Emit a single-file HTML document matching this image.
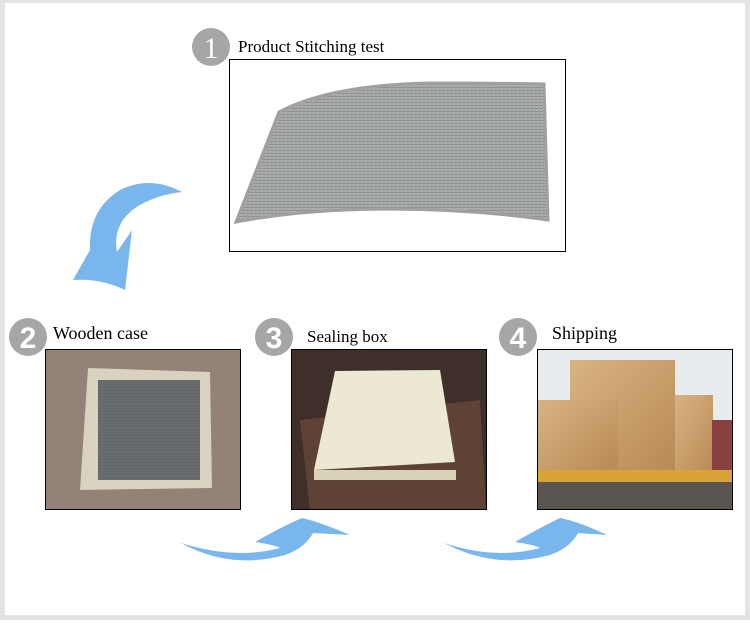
<!DOCTYPE html>
<html><head><style>
body{margin:0;width:750px;height:620px;overflow:hidden;background:#fff}
</style></head><body>
<svg width="750" height="620" xmlns="http://www.w3.org/2000/svg" font-family="Liberation Serif, serif">
<defs>
<linearGradient id="mesh" x1="0" y1="0" x2="1" y2="1"><stop offset="0" stop-color="#8a8d8f"/><stop offset="0.5" stop-color="#b3b5b6"/><stop offset="1" stop-color="#8f9294"/></linearGradient>
<pattern id="lines" width="4" height="3" patternUnits="userSpaceOnUse"><rect width="4" height="3" fill="url(#mesh)"/><rect width="4" height="1" fill="#7d8082" opacity="0.5"/></pattern>
<linearGradient id="wood" x1="0" y1="0" x2="1" y2="1"><stop offset="0" stop-color="#d9b383"/><stop offset="1" stop-color="#b88a55"/></linearGradient>
</defs>
<rect x="0" y="0" width="750" height="620" fill="#e4e4e4"/>
<rect x="5" y="3" width="740" height="612" fill="#fff"/>

<!-- panel 1 -->
<rect x="229.5" y="59.5" width="336" height="192" fill="#fff" stroke="#000"/>
<path d="M279 112 Q330 85 430 83 Q500 83 544 84 L548 220 Q450 206 345 210 Q290 212 236 222 Z" fill="url(#lines)" stroke="#a0a0a0" stroke-width="3"/>
<circle cx="211" cy="47" r="19" fill="#a6a6a6"/>
<text x="211" y="58" font-size="30" fill="#fff" text-anchor="middle">1</text>
<text x="238" y="52" font-size="17">Product Stitching test</text>

<!-- panel 2 -->
<rect x="45.5" y="349.5" width="195" height="160" fill="#5a4a44" stroke="#000"/>
<rect x="46" y="350" width="194" height="159" fill="#c9b9a9" opacity="0.5"/>
<path d="M88 368 L210 372 L212 488 L80 490 Z" fill="#d8d2bf"/>
<rect x="98" y="380" width="102" height="100" fill="#4e5356"/>
<rect x="98" y="380" width="102" height="100" fill="url(#lines)" opacity="0.3"/>
<circle cx="28" cy="337" r="19" fill="#a6a6a6"/>
<text x="28" y="348" font-size="30" fill="#fff" text-anchor="middle" font-family="Liberation Sans, sans-serif" font-weight="bold">2</text>
<text x="53" y="339" font-size="18">Wooden case</text>

<!-- panel 3 -->
<rect x="291.5" y="349.5" width="195" height="160" fill="#3e2f2a" stroke="#000"/>
<path d="M300 420 L480 400 L486 509 L310 509 Z" fill="#6d4a3c" opacity="0.7"/>
<path d="M335 371 L440 370 L455 462 L314 470 Z" fill="#ece8d2"/>
<rect x="314" y="470" width="142" height="10" fill="#d7d2b8"/>
<circle cx="274" cy="337" r="19" fill="#a6a6a6"/>
<text x="274" y="348" font-size="30" fill="#fff" text-anchor="middle" font-family="Liberation Sans, sans-serif" font-weight="bold">3</text>
<text x="307" y="342" font-size="17">Sealing box</text>

<!-- panel 4 -->
<rect x="537.5" y="349.5" width="195" height="160" fill="#e8ecef" stroke="#000"/>
<rect x="538" y="480" width="194" height="29" fill="#5a5550"/>
<rect x="538" y="470" width="194" height="12" fill="#d9a338"/>
<rect x="570" y="360" width="105" height="110" fill="url(#wood)"/>
<rect x="538" y="400" width="80" height="70" fill="url(#wood)"/>
<rect x="675" y="395" width="38" height="75" fill="url(#wood)"/>
<rect x="712" y="420" width="20" height="50" fill="#8a4040"/>
<circle cx="518" cy="337" r="19" fill="#a6a6a6"/>
<text x="518" y="348" font-size="30" fill="#fff" text-anchor="middle" font-family="Liberation Sans, sans-serif" font-weight="bold">4</text>
<text x="552" y="339" font-size="18">Shipping</text>

<!-- arrows -->
<g fill="#7ab6ee">
<path d="M182 192 Q150 175 120 190 Q88 210 90 250 L73 280 Q100 278 125 290 L132 230 L117 252 Q112 225 135 208 Q155 195 182 192 Z"/>
<path d="M181 543 Q230 570 285 555 Q305 548 313 533 L350 535 Q320 522 302 518 Q285 525 255 542 Q275 545 280 548 Q235 560 181 543 Z"/>
<path d="M444 543 Q495 570 550 555 Q570 548 578 533 L607 535 Q580 522 560 518 Q545 525 515 542 Q535 545 540 548 Q495 560 444 543 Z"/>
</g>
</svg>
</body></html>
